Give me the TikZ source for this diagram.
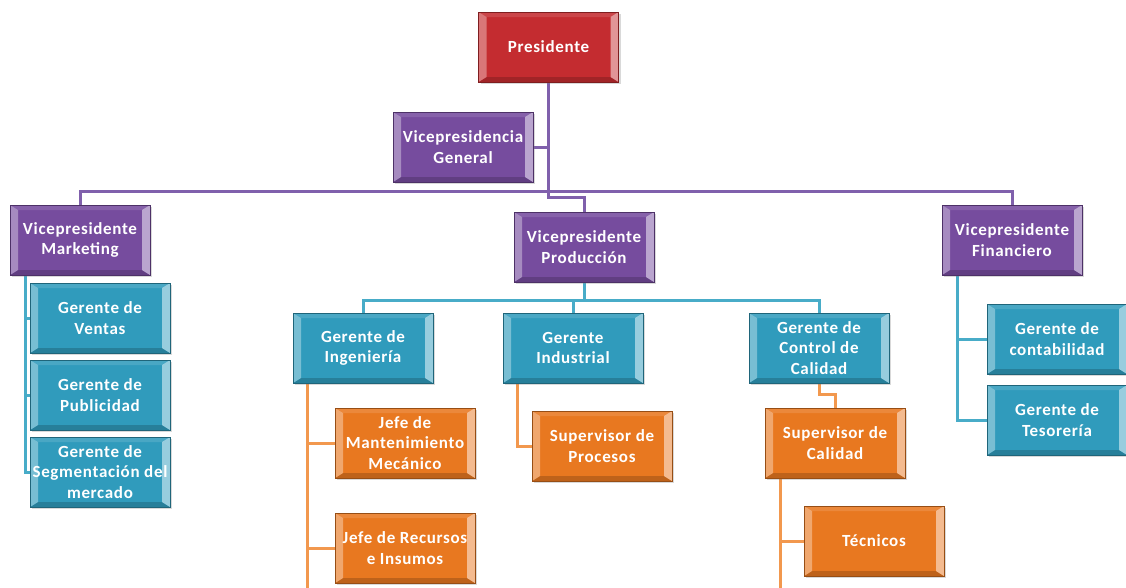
\documentclass[tikz,border=0pt]{standalone}
\usepackage{fontspec}
\setmainfont{Carlito}[LetterSpace=4]
\usetikzlibrary{shadows,calc,backgrounds}
\definecolor{cRed}{RGB}{196,44,48}
\definecolor{cPur}{RGB}{118,76,158}
\definecolor{cTeal}{RGB}{48,155,188}
\definecolor{cOra}{RGB}{232,120,32}
\definecolor{lPur}{RGB}{128,96,172}
\definecolor{lTeal}{RGB}{72,172,200}
\definecolor{lOra}{RGB}{242,152,78}
\tikzset{
  box/.style={draw=#1!65!black, line width=0.8pt, fill=#1, minimum width=140pt, minimum height=70pt,
    text=white, align=center, inner sep=1pt,
    font=\bfseries\fontsize{17}{20.5}\selectfont,
    drop shadow={opacity=0.3, shadow xshift=2pt, shadow yshift=-2pt},
    path picture={
      \path (path picture bounding box.south west) coordinate (@sw)
            (path picture bounding box.north east) coordinate (@ne);
      \fill[#1!88!white] (@sw|-@ne) -- (@ne) -- ([shift={(-8pt,-5pt)}]@ne) -- ([shift={(8pt,-5pt)}]@sw|-@ne) -- cycle;
      \fill[#1!82!black] (@sw) -- (@ne|-@sw) -- ([shift={(-8pt,5pt)}]@ne|-@sw) -- ([shift={(8pt,5pt)}]@sw) -- cycle;
      \fill[#1!65!white] (@sw) -- (@sw|-@ne) -- ([shift={(8pt,-5pt)}]@sw|-@ne) -- ([shift={(8pt,5pt)}]@sw) -- cycle;
      \fill[#1!50!white] (@ne|-@sw) -- (@ne) -- ([shift={(-8pt,-5pt)}]@ne) -- ([shift={(-8pt,5pt)}]@ne|-@sw) -- cycle;
    }},
  rbox/.style={box=cRed}, pbox/.style={box=cPur}, tbox/.style={box=cTeal}, obox/.style={box=cOra},
  pl/.style={draw=lPur, line width=3pt},
  tl/.style={draw=lTeal, line width=3pt},
  ol/.style={draw=lOra, line width=3pt},
}
\begin{document}
\begin{tikzpicture}[x=1pt,y=-1pt]
\useasboundingbox (0,0) rectangle (1126,587);
% nodes
\node[rbox] (pres) at (548.5,47) {Presidente};
\node[pbox] (vpg) at (463,147) {Vicepresidencia\\General};
\node[pbox] (vpm) at (80,240) {Vicepresidente\\Marketing};
\node[pbox] (vpp) at (584,247) {Vicepresidente\\Producción};
\node[pbox] (vpf) at (1012,240) {Vicepresidente\\Financiero};
\node[tbox] (gv) at (100,318) {Gerente de\\Ventas};
\node[tbox] (gp) at (100,395) {Gerente de\\Publicidad};
\node[tbox] (gs) at (100,472) {Gerente de\\Segmentación del\\mercado};
\node[tbox] (gi) at (363,348) {Gerente de\\Ingeniería};
\node[tbox] (gind) at (573,348) {Gerente\\Industrial};
\node[tbox] (gcc) at (819,348) {Gerente de\\Control de\\Calidad};
\node[tbox] (gc) at (1057,339) {Gerente de\\contabilidad};
\node[tbox] (gt) at (1057,420) {Gerente de\\Tesorería};
\node[obox] (jm) at (405,443) {Jefe de\\Mantenimiento\\Mecánico};
\node[obox] (jr) at (405,548) {Jefe de Recursos\\e Insumos};
\node[obox] (sp) at (602,446) {Supervisor de\\Procesos};
\node[obox] (sc) at (835,443) {Supervisor de\\Calidad};
\node[obox] (tec) at (874,541) {Técnicos};
% junction coordinates
\coordinate (hub) at (548.5,191);
\coordinate (hub2) at (584,300);
\coordinate (mk) at (25,275);
\coordinate (fk) at (957,275);
\coordinate (ik) at (307,383);
\coordinate (ibot) at (307,590);
\coordinate (indk) at (517,383);
\coordinate (sk) at (780,479);
\coordinate (sbot) at (780,590);
\coordinate (cq) at (819,394);
% connectors
\begin{scope}[on background layer]
\path[pl] (pres.south) -- (hub);
\path[pl] (vpg.east) -- (vpg.east -| hub);
\path[pl] (vpm.north) |- (hub);
\path[pl] (vpf.north) |- (hub);
\path[pl] (hub) -- ++(0,6) -| (vpp.north);
\path[tl] (vpp.south) -- (hub2);
\path[tl] (gi.north) |- (hub2);
\path[tl] (gcc.north) |- (hub2);
\path[tl] (gind.north) -- (gind.north |- hub2);
\path[tl] (mk) |- (gv.west);
\path[tl] (mk) |- (gp.west);
\path[tl] (mk) |- (gs.west);
\path[tl] (fk) |- (gc.west);
\path[tl] (fk) |- (gt.west);
\path[ol] (ik) -- (ibot);
\path[ol] (ik) |- (jm.west);
\path[ol] (ik) |- (jr.west);
\path[ol] (indk) |- (sp.west);
\path[ol] (gcc.south) -- (cq) -| (sc.north);
\path[ol] (sk) -- (sbot);
\path[ol] (sk) |- (tec.west);
\end{scope}
\end{tikzpicture}
\end{document}
